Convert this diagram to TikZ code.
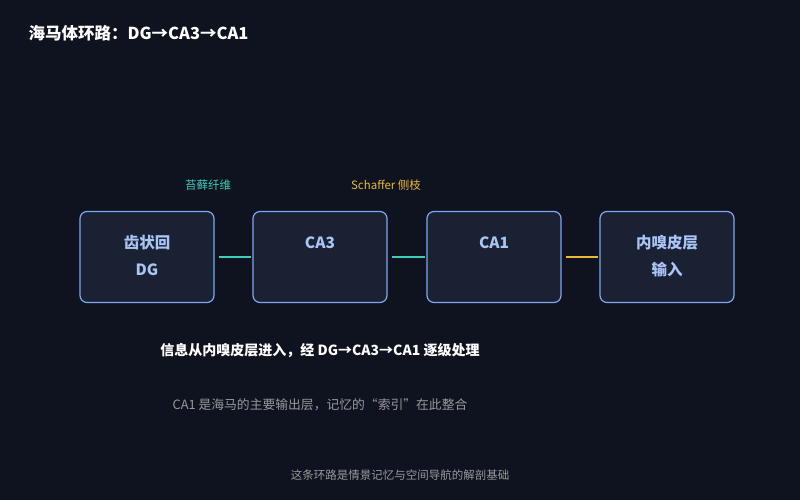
\documentclass[tikz,border=0pt]{standalone}
\usepackage{fontspec}
\setmainfont{Noto Sans CJK SC}
\begin{document}
\begin{tikzpicture}[x=1pt,y=-1pt,
  box/.style={draw=boxline,fill=boxfill,line width=1.2pt,rounded corners=7pt,minimum width=134pt,minimum height=91pt},
  btxt/.style={text=boxtext,font=\fontsize{15.5}{18}\selectfont\bfseries},
  lnk/.style={line width=1.8pt}]
\definecolor{bg}{HTML}{0F1320}
\definecolor{boxfill}{HTML}{1A2133}
\definecolor{boxline}{HTML}{7FA6EE}
\definecolor{boxtext}{HTML}{A9C5F6}
\definecolor{teal}{HTML}{3CCFB9}
\definecolor{gold}{HTML}{E9B93A}
\fill[bg] (0,0) rectangle (800,500);
\useasboundingbox (0,0) rectangle (800,500);
\node[anchor=west,text=white,font=\fontsize{16.5}{19}\selectfont\bfseries] (title) at (25,33) {海马体环路：DG→CA3→CA1};
\node[box] (b1) at (147,257) {};
\node[box] (b2) at (320,257) {};
\node[box] (b3) at (494,257) {};
\node[box] (b4) at (667,257) {};
\node[btxt] (t1a) at (147,243) {齿状回};
\node[btxt] (t1b) at (147,270) {DG};
\node[btxt] (t2) at (320,243) {CA3};
\node[btxt] (t3) at (494,243) {CA1};
\node[btxt] (t4a) at (667,243) {内嗅皮层};
\node[btxt] (t4b) at (667,270) {输入};
\draw[lnk,teal] ([xshift=4pt]b1.east) -- ([xshift=-1pt]b2.west);
\draw[lnk,teal] ([xshift=4pt]b2.east) -- ([xshift=-1pt]b3.west);
\draw[lnk,gold] ([xshift=4pt]b3.east) -- ([xshift=-1pt]b4.west);
\node[text=teal,font=\fontsize{11.5}{13}\selectfont] (l1) at (208,185) {苔藓纤维};
\node[text=gold,font=\fontsize{11.5}{13}\selectfont] (l2) at (386,185) {Schaffer 侧枝};
\node[text=white,font=\fontsize{14}{16}\selectfont\bfseries] (m1) at (320,351) {信息从内嗅皮层进入，经 DG→CA3→CA1 逐级处理};
\node[text=gray!80,font=\fontsize{12.8}{15}\selectfont] (m2) at (320,405) {CA1 是海马的主要输出层，记忆的“索引”在此整合};
\node[text=gray!80,font=\fontsize{11.5}{13}\selectfont] (m3) at (400,475) {这条环路是情景记忆与空间导航的解剖基础};
\end{tikzpicture}
\end{document}
